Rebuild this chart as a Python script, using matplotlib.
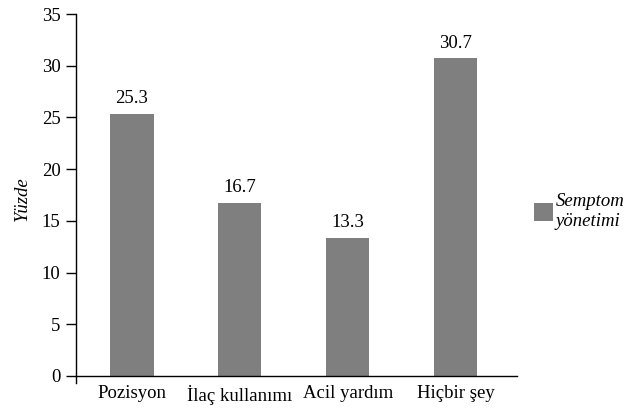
import matplotlib.pyplot as plt

categories = ['Pozisyon', 'İlaç kullanımı', 'Acil yardım', 'Hiçbir şey']
values = [25.3, 16.7, 13.3, 30.7]
series_name = 'Semptom\nyönetimi'
y_ticks = [0, 5, 10, 15, 20, 25, 30, 35]

plt.rcParams['font.family'] = ['Liberation Serif', 'DejaVu Serif']
plt.rcParams['font.size'] = 13.5

fig = plt.figure(figsize=(6.27, 4.12), dpi=100)
ax = fig.add_axes([0.121, 0.070, 0.704, 0.896])

x = range(len(categories))
bars = ax.bar(x, values, width=0.4, color='#7f7f7f', label=series_name)
for b, v in zip(bars, values):
    ax.annotate(f'{v}', (b.get_x() + b.get_width() / 2, v), xytext=(0, 5),
                textcoords='offset points', ha='center', va='bottom')

ax.set_xlim(-0.52, 3.57)
ax.set_ylim(-0.7, 35)
ax.set_yticks(y_ticks)
ax.set_xticks(list(x))
ax.set_xticklabels(categories)
ax.tick_params(axis='x', length=0, pad=1)
ax.tick_params(axis='y', length=7, width=1, direction='out', pad=4)
ax.axhline(0, color='black', lw=1, xmin=0, xmax=1, clip_on=False)
for s in ['top', 'right', 'bottom']:
    ax.spines[s].set_visible(False)
ax.spines['left'].set_linewidth(1)
ax.set_ylabel('Yüzde', style='italic', labelpad=8)

leg = ax.legend(loc='center left', bbox_to_anchor=(1.0, 0.465), frameon=False,
                prop={'style': 'italic'}, handlelength=1.0, handleheight=1.1,
                handletextpad=0.15)
for t in leg.get_texts():
    t.set_linespacing(1.3)

fig.savefig('out.png', dpi=100)
